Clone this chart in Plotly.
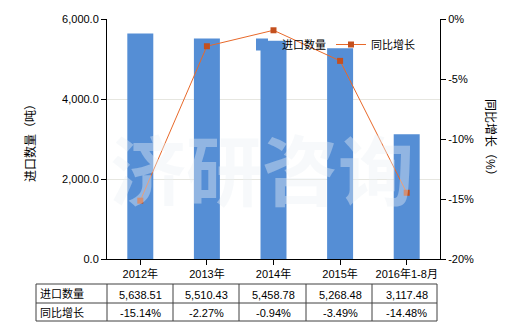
import plotly.graph_objects as go

categories = ["2012年", "2013年", "2014年", "2015年", "2016年1-8月"]
import_qty = [5638.51, 5510.43, 5458.78, 5268.48, 3117.48]
yoy_growth = [-15.14, -2.27, -0.94, -3.49, -14.48]
qty_labels = ["5,638.51", "5,510.43", "5,458.78", "5,268.48", "3,117.48"]
growth_labels = ["-15.14%", "-2.27%", "-0.94%", "-3.49%", "-14.48%"]
left_ticks = [0, 2000, 4000, 6000]
left_ticklabels = ["0.0", "2,000.0", "4,000.0", "6,000.0"]
right_ticks = [0, -5, -10, -15, -20]
right_ticklabels = ["0%", "-5%", "-10%", "-15%", "-20%"]

W, H = 520, 330
L, R, T, B = 107, 440, 19, 259
FONT = "Liberation Sans, Noto Sans CJK SC, sans-serif"

def px_x(x):
    return (x - L) / (R - L)

def px_y(y):
    return (B - y) / (B - T)

fig = go.Figure()
fig.add_trace(go.Bar(
    x=categories, y=import_qty, name="进口数量",
    marker=dict(color="#558ED5", line=dict(width=0)), width=0.39,
))
fig.add_trace(go.Scatter(
    x=categories, y=yoy_growth, name="同比增长", yaxis="y2",
    mode="lines+markers",
    line=dict(color="#E8692A", width=1),
    marker=dict(symbol="square", size=6, color="#C4501E"),
))

# watermark
fig.add_annotation(
    text="<b>济研咨询</b>", x=px_x(262), y=px_y(167), xref="paper", yref="paper",
    xanchor="center", yanchor="middle",
    showarrow=False, font=dict(size=76, color="rgba(236,241,244,0.40)",
                               family="Noto Sans CJK SC"),
)

# table
shapes = []
line_c = "#404040"
row_ys = [284, 303, 321]
for yy in row_ys:
    shapes.append(dict(type="line", xref="paper", yref="paper",
                       x0=px_x(36), x1=px_x(437), y0=px_y(yy), y1=px_y(yy),
                       line=dict(color=line_c, width=1)))
col_xs = [36, 107, 173, 239, 306, 372, 437]
for xx in col_xs:
    shapes.append(dict(type="line", xref="paper", yref="paper",
                       x0=px_x(xx), x1=px_x(xx), y0=px_y(284), y1=px_y(321),
                       line=dict(color=line_c, width=1)))
fig.update_layout(shapes=shapes)

row_centers = [294, 312]
row_names = ["进口数量", "同比增长"]
for name, yc in zip(row_names, row_centers):
    fig.add_annotation(text=name, x=px_x(38), y=px_y(yc), xref="paper", yref="paper",
                       xanchor="left", yanchor="middle", showarrow=False,
                       font=dict(size=11, color="#000", family=FONT))
for cat, q, g in zip(categories, qty_labels, growth_labels):
    fig.add_annotation(text=q, x=cat, y=px_y(row_centers[0] + 1), xref="x", yref="paper",
                       xanchor="center", yanchor="middle",
                       showarrow=False, font=dict(size=11, color="#000", family=FONT))
    fig.add_annotation(text=g, x=cat, y=px_y(row_centers[1] + 1), xref="x", yref="paper",
                       xanchor="center", yanchor="middle",
                       showarrow=False, font=dict(size=11, color="#000", family=FONT))

# axis titles
fig.add_annotation(text="进口数量（吨）", x=px_x(30), y=px_y(140), xref="paper", yref="paper",
                   xanchor="center", yanchor="middle",
                   textangle=-90, showarrow=False,
                   font=dict(size=12, color="#000", family=FONT))
fig.add_annotation(text="同比增长（%）", x=px_x(490), y=px_y(140), xref="paper", yref="paper",
                   xanchor="center", yanchor="middle",
                   textangle=90, showarrow=False,
                   font=dict(size=12, color="#000", family=FONT))

fig.update_layout(
    width=W, height=H,
    margin=dict(l=L, r=W - R, t=T, b=H - B, pad=0),
    paper_bgcolor="white", plot_bgcolor="white",
    font=dict(family=FONT, size=11, color="#000"),
    showlegend=True,
    legend=dict(orientation="h", x=px_x(242), y=px_y(30), xanchor="left", yanchor="top",
                bgcolor="rgba(255,255,255,0)", font=dict(size=11, family=FONT),
                itemwidth=30, tracegroupgap=0),
    xaxis=dict(type="category", showline=True, linecolor="#000", linewidth=1,
               ticks="outside", ticklen=5, tickcolor="#000",
               tickfont=dict(size=11), showgrid=False, zeroline=False,
               range=[-0.5, 4.5]),
    yaxis=dict(range=[0, 6000], tickvals=left_ticks, ticktext=left_ticklabels,
               showline=True, linecolor="#000", linewidth=1,
               ticks="outside", ticklen=5, tickcolor="#000",
               showgrid=True, gridcolor="#E6E6E0", gridwidth=1, zeroline=False,
               tickfont=dict(size=11)),
    yaxis2=dict(range=[-20, 0], tickvals=right_ticks, ticktext=right_ticklabels,
                overlaying="y", side="right", showline=True, linecolor="#000",
                linewidth=1, ticks="outside", ticklen=5, tickcolor="#000",
                showgrid=False, zeroline=False, tickfont=dict(size=11)),
)

fig.write_html("out.html")
